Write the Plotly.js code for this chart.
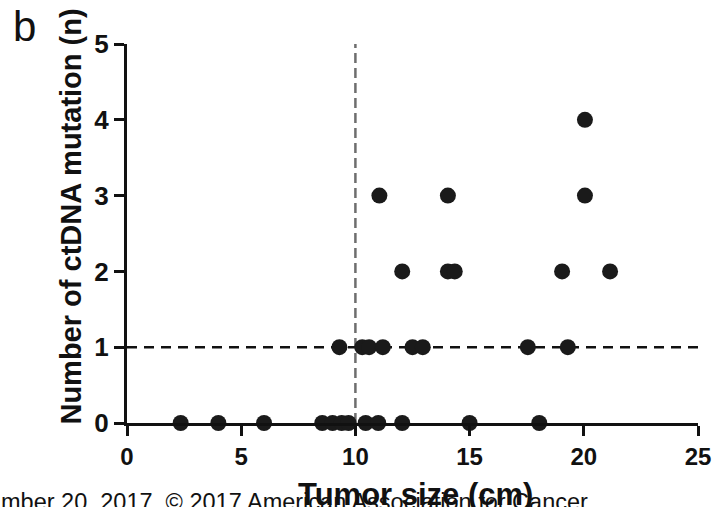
<!DOCTYPE html>
<html>
<head>
<meta charset="utf-8">
<script src="https://cdn.plot.ly/plotly-3.0.1.min.js"></script>
<style>
  html, body { margin: 0; padding: 0; background: #fff; }
  #chart { width: 718px; height: 507px; }
</style>
</head>
<body>
<div id="chart"></div>
<script>
// Tumor size (cm) and number of ctDNA mutations per patient
const tumorSize = [
  2.35, 4.0, 6.0, 8.55, 9.0, 9.4, 9.7, 10.45, 11.0, 12.05, 15.0, 18.05,
  9.3, 10.3, 10.6, 11.2, 12.5, 12.95, 17.55, 19.3,
  12.05, 14.05, 14.35, 19.05, 21.15,
  11.05, 14.05, 20.05,
  20.05
];
const mutationCount = [
  0, 0, 0, 0, 0, 0, 0, 0, 0, 0, 0, 0,
  1, 1, 1, 1, 1, 1, 1, 1,
  2, 2, 2, 2, 2,
  3, 3, 3,
  4
];
const xTicks = [0, 5, 10, 15, 20, 25];
const yTicks = [0, 1, 2, 3, 4, 5];
const sizeCutoff = 10;      // vertical reference line (cm)
const mutationCutoff = 1;   // horizontal reference line (n)

const FONT = 'Arial, "Liberation Sans", Helvetica, sans-serif';

// plot area in pixels, used to place the free-standing texts
const M = { l: 126.5, r: 20, t: 44, b: 84 };
const PW = 718 - M.l - M.r;
const PH = 507 - M.t - M.b;
const px = v => (v - M.l) / PW;          // page x -> paper x
const py = v => (507 - M.b - v) / PH;    // page y -> paper y

const trace = {
  type: 'scatter',
  mode: 'markers',
  x: tumorSize,
  y: mutationCount,
  cliponaxis: false,
  marker: { size: 16, color: '#1a1a1a', line: { width: 0 } },
  hoverinfo: 'x+y',
  showlegend: false
};

const axisCommon = {
  showgrid: false,
  zeroline: false,
  showline: true,
  linecolor: '#111',
  linewidth: 3,
  ticks: 'outside',
  ticklen: 10,
  tickwidth: 3,
  tickcolor: '#111',
  fixedrange: true
};

const layout = {
  width: 718,
  height: 507,
  margin: M,
  paper_bgcolor: '#fff',
  plot_bgcolor: '#fff',
  font: { family: FONT, color: '#111' },
  xaxis: Object.assign({}, axisCommon, {
    range: [0, 25],
    tickvals: xTicks,
    ticktext: xTicks.map(String),
    tickfont: { family: FONT, size: 24, weight: 'bold', color: '#111' }
  }),
  yaxis: Object.assign({}, axisCommon, {
    range: [0, 5],
    tickvals: yTicks,
    ticktext: yTicks.map(String),
    tickfont: { family: FONT, size: 26, weight: 'bold', color: '#111' }
  }),
  shapes: [
    {
      type: 'line', layer: 'below',
      xref: 'x', yref: 'y',
      x0: sizeCutoff, x1: sizeCutoff, y0: 0, y1: 5,
      line: { color: '#6e6e6e', width: 2.5, dash: '10px,5px' }
    },
    {
      type: 'line', layer: 'below',
      xref: 'x', yref: 'y',
      x0: 0, x1: 25, y0: mutationCutoff, y1: mutationCutoff,
      line: { color: '#111', width: 2.5, dash: '10px,7px' }
    }
  ],
  annotations: [
    {
      // y-axis title
      text: 'Number of ctDNA mutation (n)',
      xref: 'paper', yref: 'paper',
      x: px(70), y: py(217),
      xanchor: 'center', yanchor: 'middle',
      textangle: -90,
      showarrow: false,
      font: { family: FONT, size: 29, weight: 'bold', color: '#111' }
    },
    {
      // x-axis title
      text: 'Tumor size (cm)',
      xref: 'paper', yref: 'paper',
      x: px(415), y: py(494),
      xanchor: 'center', yanchor: 'middle',
      showarrow: false,
      font: { family: FONT, size: 31, weight: 'bold', color: '#111' }
    },
    {
      text: 'b',
      xref: 'paper', yref: 'paper',
      x: px(10), y: py(26),
      xanchor: 'left', yanchor: 'middle',
      showarrow: false,
      font: { family: FONT, size: 42, color: '#111' }
    },
    {
      text: 'mber 20, 2017. © 2017 American Association for Cancer',
      xref: 'paper', yref: 'paper',
      x: px(-2), y: py(502),
      xanchor: 'left', yanchor: 'middle',
      showarrow: false,
      font: { family: FONT, size: 23.5, color: '#111' }
    }
  ]
};

Plotly.newPlot('chart', [trace], layout, { displayModeBar: false, staticPlot: true });
</script>
</body>
</html>
